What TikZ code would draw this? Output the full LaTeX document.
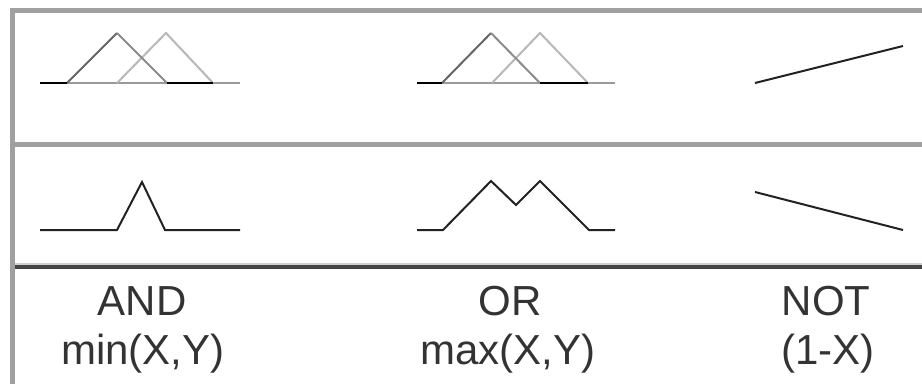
\documentclass[tikz,border=0pt]{standalone}
\usepackage{fontspec}
\setmainfont{Liberation Sans}
\definecolor{framegray}{HTML}{A0A0A0}
\definecolor{framedark}{HTML}{444444}
\definecolor{framelight}{HTML}{D0D0D0}
\definecolor{tridark}{HTML}{666666}
\definecolor{trimid}{HTML}{8C8C8C}
\definecolor{trilight}{HTML}{B8B8B8}
\definecolor{basegray}{HTML}{9A9A9A}
\definecolor{curve}{HTML}{222222}
\definecolor{txt}{HTML}{333333}
\tikzset{
  frameline/.style={draw=framegray, line width=5pt},
  baseline/.style={draw=basegray, line width=2pt},
  blackseg/.style={draw=black, line width=2pt},
  tri1/.style={draw=tridark, line width=2pt, line join=miter},
  tri2/.style={draw=trilight, line width=2pt, line join=miter},
  mf/.style={draw=curve, line width=2pt, line join=miter},
  lbl/.style={anchor=base, inner sep=0pt, text=txt, font=\fontsize{42}{48}\selectfont}
}
\begin{document}
\begin{tikzpicture}[x=1pt,y=-1pt]
\useasboundingbox (0,0) rectangle (922,384);
\fill[white] (0,0) rectangle (922,384);
% frame
\draw[frameline] (12,10.5) -- (922,10.5);
\draw[frameline] (12,144.5) -- (922,144.5);
\draw[draw=framelight, line width=2pt] (12,264) -- (922,264);
\draw[draw=framedark, line width=4pt] (12,267) -- (922,267);
\draw[frameline] (12,8) -- (12,384);
% row 1: AND
\draw[baseline] (40,83) -- (240,83);
\draw[tri2] (117,83) -- (166,33) -- (213,83);
\draw[tri1] (67,83) -- (117,33);
\draw[draw=trimid, line width=2pt] (117,33) -- (167,83);
\draw[blackseg] (40,83) -- (67,83);
\draw[blackseg] (167,83) -- (213,83);
% row 1: OR
\draw[baseline] (417,83) -- (615,83);
\draw[tri2] (492,83) -- (540,33) -- (588,83);
\draw[tri1] (442,83) -- (491,33);
\draw[draw=trimid, line width=2pt] (491,33) -- (540,83);
\draw[blackseg] (417,83) -- (442,83);
\draw[blackseg] (540,83) -- (588,83);
% row 1: NOT
\draw[mf] (755,83) -- (903,46);
% row 2
\draw[mf] (40,230) -- (117,230) -- (142,182) -- (165,230) -- (240,230);
\draw[mf] (417,230) -- (443,230) -- (491,181) -- (516,205) -- (540,181) -- (589,230) -- (615,230);
\draw[mf] (755,192) -- (903,230);
% labels
\node[lbl] (and) at (142,315) {AND};
\node[lbl] (min) at (143,364) {min(X,Y)};
\node[lbl] (or) at (510,315) {OR};
\node[lbl] (max) at (508,364) {max(X,Y)};
\node[lbl] (not) at (826,315) {NOT};
\node[lbl] (neg) at (828,364) {(1-X)};
\end{tikzpicture}
\end{document}
